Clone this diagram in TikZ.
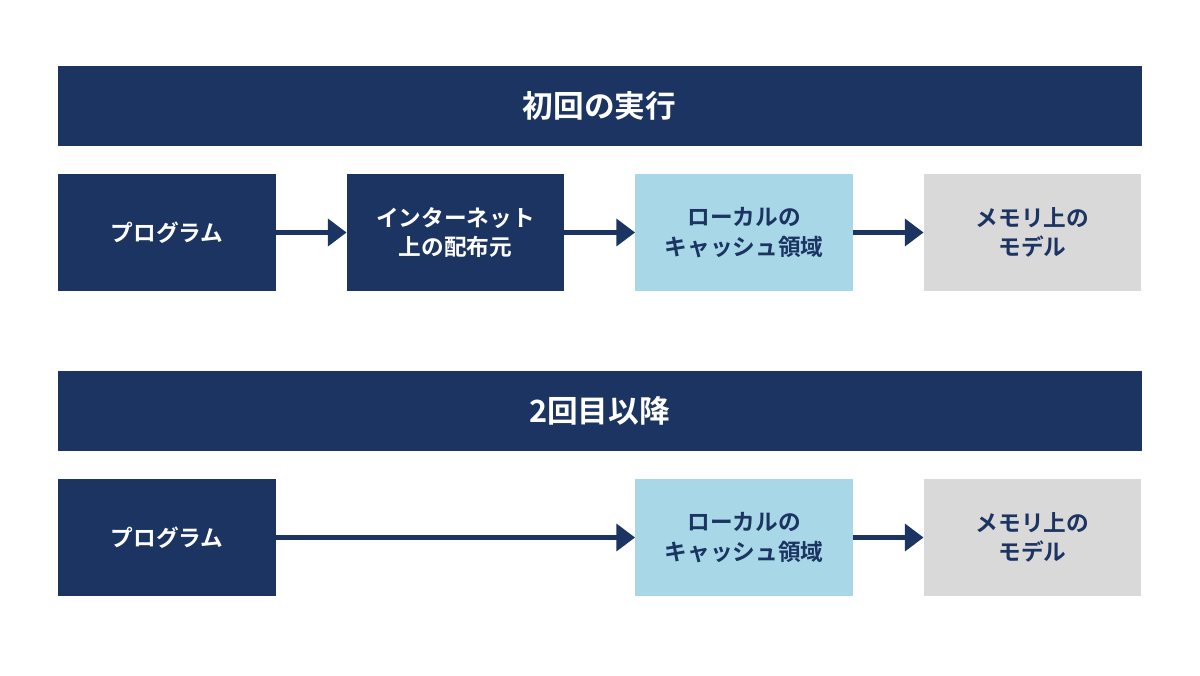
\documentclass[tikz,border=0pt]{standalone}
\usepackage{fontspec}
\setmainfont{Noto Sans CJK JP}[BoldFont={Noto Sans CJK JP Bold}]
\usetikzlibrary{arrows.meta}
\definecolor{navy}{HTML}{1B3461}
\definecolor{lblue}{HTML}{A8D8E8}
\definecolor{lgray}{HTML}{D9D9D9}
\begin{document}
\begin{tikzpicture}[x=0.75pt,y=-0.75pt,
  banner/.style={fill=navy,text=white,font=\bfseries\fontsize{23}{28}\selectfont,minimum width=813pt,minimum height=60pt,inner sep=0pt},
  box/.style={minimum width=163pt,minimum height=88pt,inner sep=0pt,align=center,font=\bfseries\fontsize{17}{22}\selectfont},
  dark/.style={box,fill=navy,text=white},
  blue/.style={box,fill=lblue,text=navy},
  gray/.style={box,fill=lgray,text=navy},
  arr/.style={draw=navy,line width=3.8pt,-{Triangle[length=14pt,width=20pt]}}]
\useasboundingbox (0,0) rectangle (1200,675);
\node[banner] (t1) at (599.5,106) {初回の実行};
\node[dark] (a1) at (167,232.5) {プログラム};
\node[dark] (a2) at (455.5,232.5) {インターネット\\上の配布元};
\node[blue] (a3) at (744,232.5) {ローカルの\\キャッシュ領域};
\node[gray] (a4) at (1032.5,232.5) {メモリ上の\\モデル};
\draw[arr] (a1) -- (a2);
\draw[arr] (a2) -- (a3);
\draw[arr] (a3) -- (a4);
\node[banner] (t2) at (599.5,411) {2回目以降};
\node[dark] (b1) at (167,537.5) {プログラム};
\node[blue] (b3) at (744,537.5) {ローカルの\\キャッシュ領域};
\node[gray] (b4) at (1032.5,537.5) {メモリ上の\\モデル};
\draw[arr] (b1) -- (b3);
\draw[arr] (b3) -- (b4);
\end{tikzpicture}
\end{document}
